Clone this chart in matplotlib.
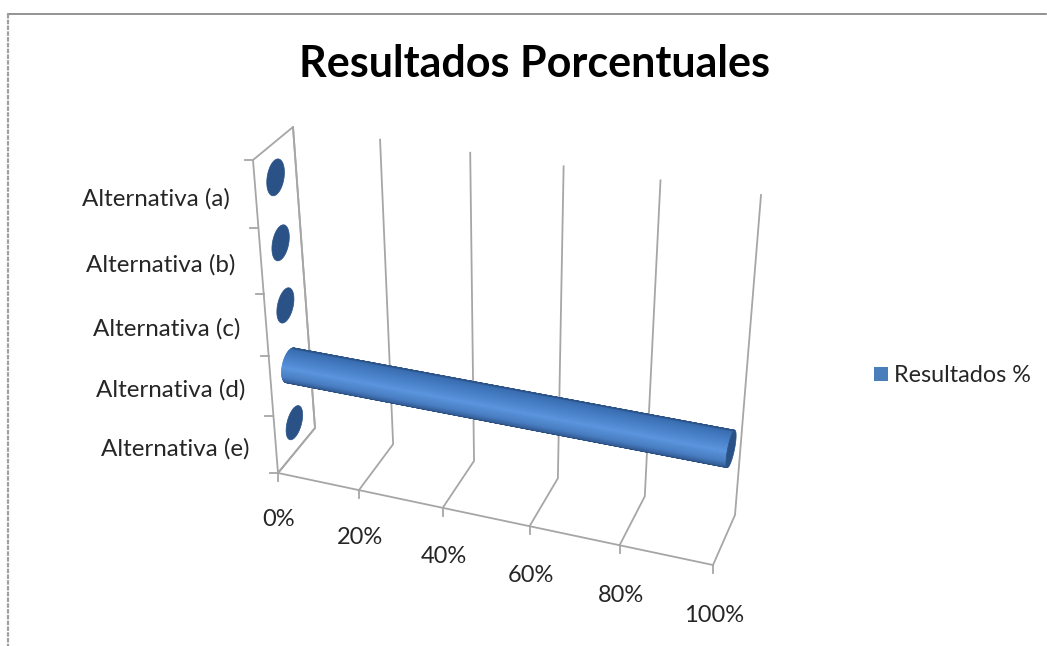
import numpy as np
import matplotlib
matplotlib.use("Agg")
import matplotlib.pyplot as plt
from matplotlib.collections import PolyCollection
from matplotlib.patches import Rectangle, Polygon

plt.rcParams['font.family'] = ['Lato', 'DejaVu Sans']

title = "Resultados Porcentuales"
series_name = "Resultados %"
categories = ["Alternativa (a)", "Alternativa (b)", "Alternativa (c)", "Alternativa (d)", "Alternativa (e)"]
values = [0, 0, 0, 100, 0]
value_ticks = [0, 20, 40, 60, 80, 100]

GRID = "#a6a6a6"
TEXT = "#262626"
CAP = "#2a5286"

# corners of the 3D box on the canvas, (value, depth, height)
c000 = np.array([278.0, 473.0])
c100 = np.array([713.0, 565.0])
c010 = np.array([315.0, 428.0])
c110 = np.array([735.0, 515.0])
c001 = np.array([253.0, 160.0])
c101 = np.array([738.0, 229.0])
c011 = np.array([293.0, 127.0])
c111 = np.array([761.0, 195.0])


def warp(t, k):
    # perspective foreshortening along one axis
    return t / (t + k * (1 - t))


def proj(v, d, h):
    s = warp(v / 100.0, 1.094)
    z = warp(h, 1.116)
    low = (1 - d) * ((1 - s) * c000 + s * c100) + d * ((1 - s) * c010 + s * c110)
    high = (1 - d) * ((1 - s) * c001 + s * c101) + d * ((1 - s) * c011 + s * c111)
    return (1 - z) * low + z * high


def ring(v, h, n=120):
    # circle of the cylinder cross section, as seen on the canvas
    th = np.linspace(0, 2 * np.pi, n + 1)
    c = proj(v, 0.5, h)
    U = proj(v, 0.5, h + 0.05) - c
    V = proj(v, 0.72, h) - c
    return np.array([c + np.cos(a) * U + np.sin(a) * V for a in th])


fig = plt.figure(figsize=(10.47, 6.46), dpi=100)
ax = fig.add_axes([0, 0, 1, 1])
ax.set_xlim(0, 1047)
ax.set_ylim(646, 0)
ax.axis("off")

# outer frame, only top and left show
ax.plot([8, 1046], [14, 14], color="#808080", lw=1.2)
ax.plot([8, 8], [14, 646], color="#a0a0a0", lw=1.6, ls=(0, (2, 0.6)))

ax.text(534.5, 64, title, fontsize=31, fontweight="bold", color="black", ha="center", va="center")

# left wall
wall = [c000, c001, c011, c010, c000]
ax.plot([p[0] for p in wall], [p[1] for p in wall], color=GRID, lw=1.3)

# floor and back wall grid lines
for v in value_ticks:
    front = proj(v, 0, 0)
    back = proj(v, 1, 0)
    top = proj(v, 1, 1)
    ax.plot([front[0], back[0], top[0]], [front[1], back[1], top[1]], color=GRID, lw=1.3)
    ax.plot([front[0], front[0]], [front[1], front[1] + 8], color=GRID, lw=1.3)
    ax.text(front[0] + 1, front[1] + 47 + 4 * v / 100, f"{v}%", fontsize=17, color=TEXT,
            ha="center", va="center")
f0 = proj(0, 0, 0)
f1 = proj(100, 0, 0)
ax.plot([f0[0], f1[0]], [f0[1], f1[1]], color=GRID, lw=1.3)

# category ticks on the front edge of the wall
n = len(categories)
for i in range(n + 1):
    p = proj(0, 0, i / n)
    ax.plot([p[0] - 8, p[0]], [p[1], p[1]], color=GRID, lw=1.3)

# shading across the cylinder, top edge to bottom edge
stops = [-1.0, -0.9, -0.45, 0.2, 0.72, 0.94, 1.0]
reds = [0x2c, 0x3a, 0x46, 0x5b, 0x48, 0x36, 0x2a]
greens = [0x54, 0x6e, 0x7d, 0x95, 0x7d, 0x60, 0x4e]
blues = [0x88, 0xb2, 0xc4, 0xdd, 0xc2, 0x9a, 0x80]

# cylinders, category (a) sits at the top
for i, (cat, val) in enumerate(zip(categories, values)):
    h = (n - i - 0.5) / n
    lab = proj(0, 0, h)
    ax.text(lab[0] - 26, lab[1] + 4, cat, fontsize=17.4, color=TEXT, ha="right", va="center")

    base = ring(0, h)
    end = ring(val, h)
    if val > 0:
        m = len(base) - 1
        centre = base[:-1].mean(axis=0)
        axis = end[:-1].mean(axis=0) - centre
        axis = axis / np.linalg.norm(axis)
        normal = np.array([-axis[1], axis[0]])
        off = (base[:-1] - centre) @ normal
        along = (base[:-1] - centre) @ axis
        off = off / np.abs(off).max()
        # keep the side of the surface that faces the viewer
        top = int(np.argmin(off))
        bot = int(np.argmax(off))
        arc_a = [(top + k) % m for k in range((bot - top) % m + 1)]
        arc_b = [(bot + k) % m for k in range((top - bot) % m + 1)]
        arc = arc_a if along[arc_a].mean() < along[arc_b].mean() else arc_b
        quads = []
        cols = []
        for j in arc[:-1]:
            quads.append([base[j], base[j + 1], end[j + 1], end[j]])
            u = off[j]
            cols.append((np.interp(u, stops, reds) / 255, np.interp(u, stops, greens) / 255,
                         np.interp(u, stops, blues) / 255))
        ax.add_collection(PolyCollection(quads, facecolors=cols, edgecolors=cols, linewidths=0.6, zorder=3))
    ax.add_patch(Polygon(end, closed=True, facecolor=CAP, edgecolor=CAP, lw=0.5, zorder=4))

# legend
ax.add_patch(Rectangle((874, 367), 14, 14, facecolor="#4a7ebb", edgecolor="none"))
ax.text(894, 375, series_name, fontsize=16.8, color=TEXT, ha="left", va="center")

fig.savefig("out.png", dpi=100)
